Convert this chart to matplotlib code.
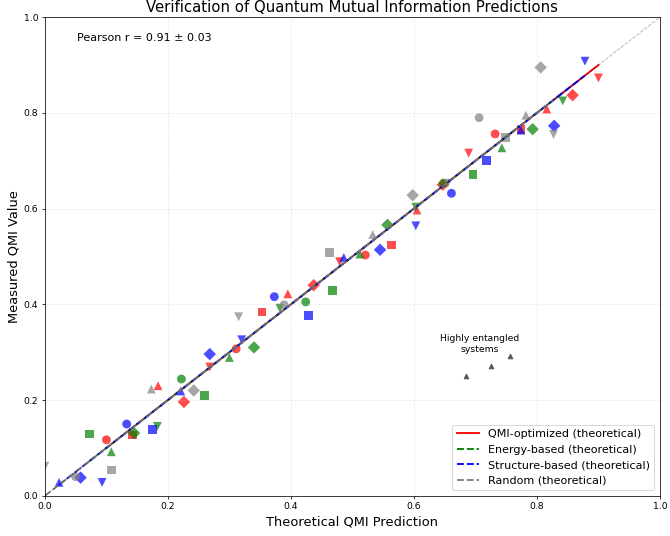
import matplotlib.pyplot as plt

# measured points, one set per method
qmi_x = [0.100, 0.142, 0.184, 0.226, 0.268, 0.311, 0.353, 0.395, 0.437, 0.479,
         0.521, 0.563, 0.605, 0.647, 0.689, 0.732, 0.774, 0.816, 0.858, 0.900]
qmi_y = [0.117, 0.127, 0.230, 0.196, 0.269, 0.307, 0.384, 0.422, 0.440, 0.489,
         0.503, 0.524, 0.597, 0.650, 0.716, 0.756, 0.766, 0.808, 0.837, 0.873]

energy_x = [0.072, 0.108, 0.145, 0.183, 0.222, 0.260, 0.300, 0.340, 0.382, 0.424,
            0.468, 0.512, 0.557, 0.603, 0.648, 0.696, 0.743, 0.793, 0.842]
energy_y = [0.129, 0.092, 0.131, 0.145, 0.244, 0.209, 0.289, 0.310, 0.392, 0.405,
            0.429, 0.505, 0.566, 0.603, 0.653, 0.672, 0.727, 0.766, 0.825]

struct_x = [0.023, 0.058, 0.093, 0.133, 0.175, 0.221, 0.268, 0.320, 0.373, 0.428,
            0.486, 0.545, 0.603, 0.661, 0.718, 0.774, 0.828, 0.878]
struct_y = [0.028, 0.038, 0.028, 0.150, 0.138, 0.219, 0.296, 0.326, 0.416, 0.376,
            0.498, 0.514, 0.564, 0.632, 0.700, 0.764, 0.773, 0.908]

random_x = [0.000, 0.050, 0.108, 0.173, 0.242, 0.315, 0.389, 0.463, 0.533, 0.598,
            0.655, 0.706, 0.749, 0.782, 0.806, 0.827]
random_y = [0.062, 0.040, 0.054, 0.223, 0.220, 0.374, 0.399, 0.509, 0.546, 0.628,
            0.653, 0.790, 0.748, 0.795, 0.895, 0.755]

entangled_x = [0.685, 0.725, 0.756]
entangled_y = [0.250, 0.271, 0.292]

methods = ['QMI-optimized', 'Energy-based', 'Structure-based', 'Random']
pearson_r = 0.91
pearson_err = 0.03

MARKERS = ['o', 's', '^', 'D', 'v']
series = [
    (qmi_x, qmi_y, 'red', '-', 0),
    (energy_x, energy_y, 'green', '--', 1),
    (struct_x, struct_y, 'blue', '--', 2),
    (random_x, random_y, 'gray', '--', 4),
]

fig, ax = plt.subplots(figsize=(10, 8), dpi=67)

# measured points
for xs, ys, color, ls, start in series:
    for i, (x, y) in enumerate(zip(xs, ys)):
        ax.scatter(x, y, color=color, marker=MARKERS[(start + i) % len(MARKERS)],
                   s=90, alpha=0.7, edgecolors='none')

# theoretical lines over the range each method covers
for name, (xs, ys, color, ls, start) in zip(methods, series):
    lo, hi = min(xs), max(xs)
    ax.plot([lo, hi], [lo, hi], color=color, linestyle=ls, linewidth=2,
            label=f'{name} (theoretical)')

ax.plot([0, 1], [0, 1], 'k--', alpha=0.3, linewidth=1)

ax.scatter(entangled_x, entangled_y, marker='^', color='#555555', s=25)
ax.text(0.707, 0.317, 'Highly entangled\nsystems', ha='center', va='center', fontsize=10)

ax.text(0.052, 0.956, f'Pearson r = {pearson_r:.2f} ± {pearson_err:.2f}',
        transform=ax.transAxes, fontsize=12, va='center')

ax.set_xlim(0, 1)
ax.set_ylim(0, 1)
ax.set_xlabel('Theoretical QMI Prediction', fontsize=14)
ax.set_ylabel('Measured QMI Value', fontsize=14)
ax.set_title('Verification of Quantum Mutual Information Predictions', fontsize=16)
ax.grid(True, linestyle='--', alpha=0.3)
ax.legend(loc='lower right', fontsize=12)

plt.subplots_adjust(left=0.067, right=0.985, bottom=0.075, top=0.968)
plt.savefig('out.png')
